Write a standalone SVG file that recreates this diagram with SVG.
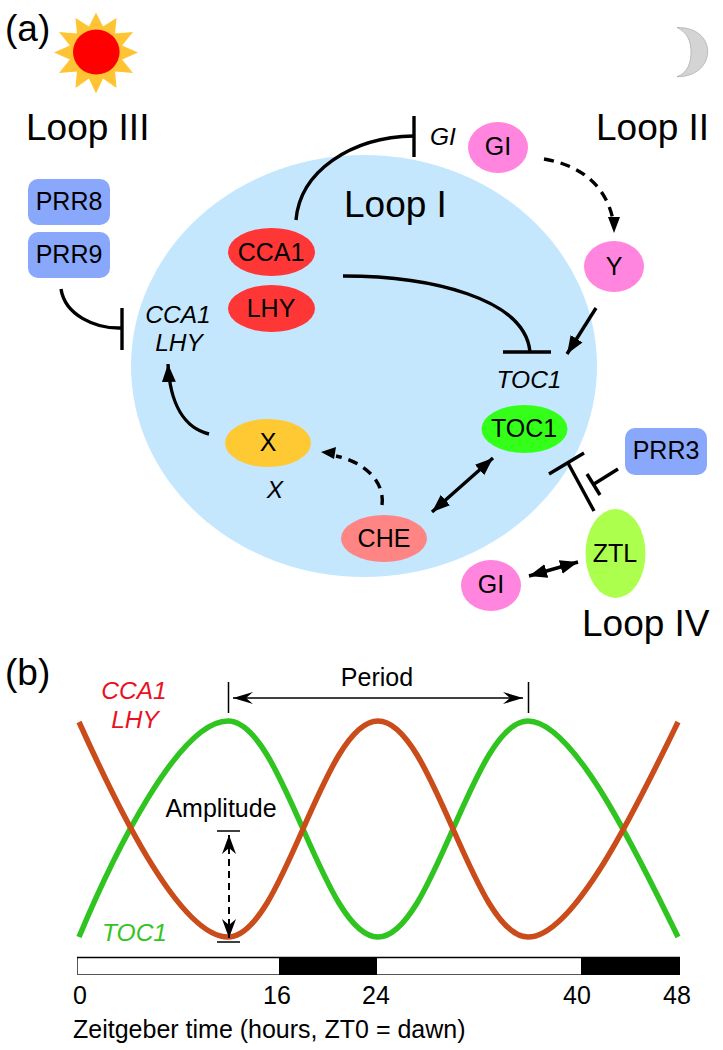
<svg xmlns="http://www.w3.org/2000/svg" width="723" height="1050" viewBox="0 0 723 1050">
<style>
text{font-family:"Liberation Sans",Arial,sans-serif;fill:#000}
.n{font-size:25px;text-anchor:middle}
.i{font-size:24.500px;text-anchor:middle;font-style:italic}
.l{font-size:37px}
.c{fill:none;stroke:#000;stroke-width:3.400}
.d{stroke-dasharray:10 7}
.t{font-size:25px;text-anchor:middle}
</style>
<defs>
<marker id="ah" markerUnits="userSpaceOnUse" markerWidth="19" markerHeight="16" refX="18" refY="8" orient="auto"><path d="M0,1L18,8L0,15Z" fill="#000"/></marker>
<marker id="as" markerUnits="userSpaceOnUse" markerWidth="19" markerHeight="16" refX="1" refY="8" orient="auto"><path d="M19,1L1,8L19,15Z" fill="#000"/></marker>
<marker id="ao" markerUnits="userSpaceOnUse" markerWidth="22" markerHeight="14" refX="1" refY="7" orient="auto"><path d="M21,1L1,7L21,13L14,7Z" fill="#000"/></marker>
<marker id="ae" markerUnits="userSpaceOnUse" markerWidth="22" markerHeight="14" refX="21" refY="7" orient="auto"><path d="M1,1L21,7L1,13L8,7Z" fill="#000"/></marker>
<marker id="ds" markerUnits="userSpaceOnUse" markerWidth="22" markerHeight="18" refX="1" refY="8" orient="auto"><path d="M20,1L1,8L20,15L14,8Z" fill="#000"/></marker>
<marker id="de" markerUnits="userSpaceOnUse" markerWidth="22" markerHeight="18" refX="20" refY="8" orient="auto"><path d="M1,1L20,8L1,15L7,8Z" fill="#000"/></marker>
</defs>
<text x="5" y="41" class="l">(a)</text>
<text x="5" y="685" class="l">(b)</text>
<g id="sun">
<polygon fill="#ffc433" points="96,12.500 103,26.400 116.500,18 115.100,33.400 133,32 122.100,45.500 138,52.500 122.100,59.500 133,73 115.100,71.600 116.500,88 103,78.600 96,93.500 89,78.600 75.500,88 76.900,71.600 59,73 69.900,59.500 54,52.500 69.900,45.500 59,32 76.900,33.400 75.500,18 89,26.400"/>
<ellipse cx="96.300" cy="52" rx="23.300" ry="22.500" fill="#ff0000"/>
</g>
<path id="moon" d="M677,27.500C697,27 708,39 707.700,51.700C707.500,66 695,77 677,76.700C688,73 691,62 691,51.700C691,41 687,32 677,27.500Z" fill="#d4d4d4" stroke="#a8a8a8" stroke-width="0.700"/>
<ellipse id="cell" cx="364" cy="366" rx="233" ry="211" fill="#c5e7fd"/>
<text x="26" y="140" class="l">Loop III</text>
<text x="596" y="140" class="l">Loop II</text>
<text x="344" y="217" class="l">Loop I</text>
<text x="582" y="636" class="l">Loop IV</text>
<g id="connectors">
<path class="c" d="M296,220C300,172 350,137 414,136"/><path class="c" d="M414,116V157"/>
<path class="c" d="M343,276C430,276 525,298 530,352"/><path class="c" d="M503,352H551"/>
<path class="c" d="M596,308L567,354" marker-end="url(#ah)"/>
<path class="c d" d="M544,159C580,165 606,185 613,220"/><path d="M608,217L620,217L614,233Z" fill="#000"/>
<path class="c" d="M61,289C65,315 95,329 122,328"/><path class="c" d="M122,308V350"/>
<path class="c" d="M209,434C185,428 170,405 168,364" marker-end="url(#ah)"/>
<path class="c d" d="M382,505C385,482 365,462 336,456"/><path d="M321,452L336,447L334,459Z" fill="#000"/>
<path class="c" d="M432,512L493,458" marker-start="url(#as)" marker-end="url(#ah)"/>
<path class="c" d="M594,511L568,463"/><path class="c" d="M549,474L584,453"/>
<path class="c" d="M618,469L594,484"/><path class="c" d="M587,474L600,495"/>
<path class="c" d="M529,576L578,562" marker-start="url(#as)" marker-end="url(#ah)"/>
</g>
<g id="prr8"><rect x="28" y="179" width="82" height="46" rx="10" fill="#8aa8fb"/><text x="69" y="210" class="n">PRR8</text></g>
<g id="prr9"><rect x="28" y="232" width="82" height="46" rx="10" fill="#8aa8fb"/><text x="69" y="263" class="n">PRR9</text></g>
<g id="prr3"><rect x="625" y="428" width="82" height="47" rx="10" fill="#8aa8fb"/><text x="666" y="459" class="n">PRR3</text></g>
<g id="cca1"><ellipse cx="271.500" cy="252" rx="43.500" ry="24" fill="#ff3636"/><text x="271" y="261" class="n">CCA1</text></g>
<g id="lhy"><ellipse cx="271.500" cy="308.500" rx="43.500" ry="23.500" fill="#ff3636"/><text x="271" y="317" class="n">LHY</text></g>
<g id="gi1"><ellipse cx="498" cy="147.500" rx="30" ry="25.500" fill="#ff85de"/><text x="498" y="155" class="n">GI</text></g>
<g id="y"><ellipse cx="614" cy="266.500" rx="30" ry="25.500" fill="#ff85de"/><text x="614" y="275" class="n">Y</text></g>
<g id="toc1"><ellipse cx="524.500" cy="429" rx="43" ry="24" fill="#33ff19"/><text x="524" y="437" class="n">TOC1</text></g>
<g id="che"><ellipse cx="384" cy="538.500" rx="43" ry="23.500" fill="#ff8585"/><text x="384" y="547" class="n">CHE</text></g>
<g id="x"><ellipse cx="268" cy="443" rx="43" ry="24" fill="#ffc933"/><text x="268" y="451" class="n">X</text></g>
<g id="ztl"><ellipse cx="615.500" cy="553.500" rx="30" ry="44.500" fill="#adff4d"/><text x="615" y="562" class="n">ZTL</text></g>
<g id="gi2"><ellipse cx="491" cy="585.500" rx="30" ry="25.500" fill="#ff85de"/><text x="491" y="593" class="n">GI</text></g>
<text x="443" y="145" class="i">GI</text>
<text x="178" y="323" class="i">CCA1</text>
<text x="179" y="351" class="i">LHY</text>
<text x="529" y="388" class="i">TOC1</text>
<text x="275" y="498" class="i">X</text>
<g id="chart">
<path d="M79,937C112,858 178,721 228,721C283,721 323,937 378,937C433,937 473,721 528,721C575,721 640,860 678,937" fill="none" stroke="#2fc41f" stroke-width="5.500"/>
<path d="M79,722C112,795 178,937 228,937C283,937 323,721 378,721C433,721 473,937 528,937C575,937 640,800 678,722" fill="none" stroke="#c94c1a" stroke-width="5.500"/>
<path d="M228.500,682V713M528.500,682V713" stroke="#000" stroke-width="1.500" fill="none"/>
<path d="M233,698H523" stroke="#000" stroke-width="1.500" fill="none" marker-start="url(#ao)" marker-end="url(#ae)"/>
<path d="M217,831H240M217,942H240" stroke="#000" stroke-width="1.500" fill="none"/>
<path d="M229,835V938" stroke="#000" stroke-width="2" stroke-dasharray="7 5" fill="none" marker-start="url(#ds)" marker-end="url(#de)"/>
<text x="377" y="686" class="t">Period</text>
<text x="221" y="817" class="t">Amplitude</text>
<text x="134" y="699" class="i" style="fill:#ea1024">CCA1</text>
<text x="135" y="728" class="i" style="fill:#ea1024">LHY</text>
<text x="134.500" y="941" class="i" style="fill:#33c41f">TOC1</text>
<rect x="77.500" y="957.500" width="602" height="17" fill="#fff" stroke="#555" stroke-width="1"/>
<path d="M77,957.500H680" stroke="#000" stroke-width="1.500"/>
<rect x="279" y="957" width="98" height="18" fill="#000"/>
<rect x="581" y="957" width="99" height="18" fill="#000"/>
<text x="80" y="1004" class="t">0</text>
<text x="277" y="1004" class="t">16</text>
<text x="376" y="1004" class="t">24</text>
<text x="577" y="1004" class="t">40</text>
<text x="677" y="1004" class="t">48</text>
<text x="73" y="1038" style="font-size:25px">Zeitgeber time (hours, ZT0 = dawn)</text>
</g>
</svg>
